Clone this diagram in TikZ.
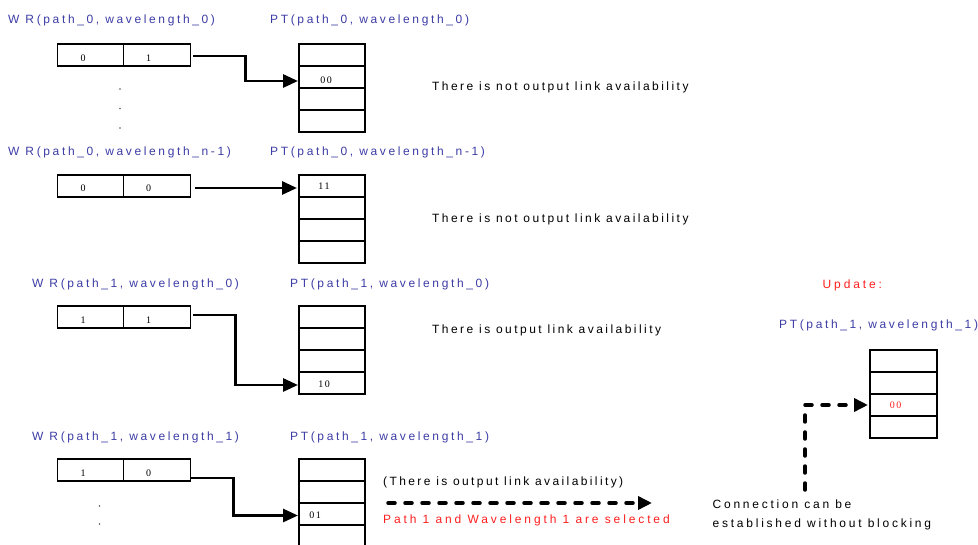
\documentclass[tikz,border=0pt]{standalone}
\usepackage{fontspec}
\setmainfont{Liberation Sans}
\newfontfamily\labfont[LetterSpace=22]{Liberation Sans}
\newfontfamily\notefont[LetterSpace=20.5]{Liberation Sans}
\newfontfamily\redfont[LetterSpace=24]{Liberation Sans}
\newfontfamily\confont[LetterSpace=23]{Liberation Sans}
\newfontfamily\parfont[LetterSpace=20]{Liberation Sans}
\newfontfamily\digfont[LetterSpace=15]{Liberation Serif}
\usetikzlibrary{arrows.meta,calc}
\definecolor{lblue}{RGB}{60,60,165}
\definecolor{lred}{RGB}{255,30,30}
\begin{document}
\begin{tikzpicture}[x=1pt,y=-1pt,
 cellbox/.style={draw, line width=1.4pt, minimum width=66pt, minimum height=22pt, inner sep=0pt, outer sep=0pt},
 wrcell/.style={cellbox, minimum width=66.5pt},
 lab/.style={anchor=base west, inner sep=0pt, text=lblue, font=\labfont\fontsize{12}{14}\selectfont},
 note/.style={anchor=base west, inner sep=0pt, font=\notefont\fontsize{12}{14}\selectfont},
 rnote/.style={anchor=base west, inner sep=0pt, text=lred, font=\redfont\fontsize{12}{14}\selectfont},
 cnote/.style={anchor=base west, inner sep=0pt, font=\confont\fontsize{12}{14}\selectfont},
 pnote/.style={anchor=base west, inner sep=0pt, font=\parfont\fontsize{12}{14}\selectfont},
 dig/.style={anchor=base, inner sep=0pt, font=\digfont\fontsize{10}{12}\selectfont},
 conn/.style={line width=2.8pt, -{Triangle[length=15pt,width=13pt]}},
 dconn/.style={line width=3.5pt, line cap=round, dash pattern=on 7pt off 10pt, -{Triangle[length=14pt,width=13pt]}},
 dotmark/.style={fill=black!65}
]
\useasboundingbox (0,0) rectangle (978,545);

% ---------- Block 1 ----------
\node[lab] (l1w) at (8,23.5) {W R(path\_0, wavelength\_0)};
\node[lab] (l1p) at (270,23.5) {PT(path\_0, wavelength\_0)};
\node[wrcell] (a1) at (90.5,55) {};
\node[wrcell] (a2) at (157,55) {};
\node[cellbox] (p1a) at (332,55) {};
\node[cellbox] (p1b) at (332,77) {};
\node[cellbox] (p1c) at (332,99) {};
\node[cellbox] (p1d) at (332,121) {};
\node[dig] (a1t) at ($(a1.center)+(-7.5,7)$) {0};
\node[dig] (a2t) at ($(a2.center)+(-8.3,7)$) {1};
\node[dig] (p1t) at ($(p1b.center)+(-6,7)$) {00};
\draw[conn] ($(a2.east)+(3,1)$) -- ++(52,0) |- ($(p1b.west)+(-1,4)$);
\fill[dotmark] (120,89) circle (0.8);
\fill[dotmark] (120,108.5) circle (0.8);
\fill[dotmark] (120,128) circle (0.8);
\node[note] (n1) at (432,90.5) {There is not output link availability};

% ---------- Block 2 ----------
\node[lab] (l2w) at (8,156) {W R(path\_0, wavelength\_n-1)};
\node[lab] (l2p) at (270,156) {PT(path\_0, wavelength\_n-1)};
\node[wrcell] (b1) at (90.5,186) {};
\node[wrcell] (b2) at (157,186) {};
\node[cellbox] (q1a) at (332,186) {};
\node[cellbox] (q1b) at (332,208) {};
\node[cellbox] (q1c) at (332,230) {};
\node[cellbox] (q1d) at (332,252) {};
\node[dig] (b1t) at ($(b1.center)+(-7.5,5.7)$) {0};
\node[dig] (b2t) at ($(b2.center)+(-8.3,5.7)$) {0};
\node[dig] (q1t) at ($(q1a.center)+(-8,4)$) {11};
\draw[conn] ($(b2.east)+(5,2)$) -- ($(q1a.west)+(-2,2)$);
\node[note] (n2) at (432,223) {There is not output link availability};

% ---------- Block 3 ----------
\node[lab] (l3w) at (32,287.7) {W R(path\_1, wavelength\_0)};
\node[lab] (l3p) at (290,287.7) {PT(path\_1, wavelength\_0)};
\node[wrcell] (c1) at (90.5,317) {};
\node[wrcell] (c2) at (157,317) {};
\node[cellbox] (q3a) at (332,317) {};
\node[cellbox] (q3b) at (332,339) {};
\node[cellbox] (q3c) at (332,361) {};
\node[cellbox] (q3d) at (332,383) {};
\node[dig] (c1t) at ($(c1.center)+(-7.5,6.3)$) {1};
\node[dig] (c2t) at ($(c2.center)+(-8.3,6.3)$) {1};
\node[dig] (q3t) at ($(q3d.center)+(-8,5)$) {10};
\draw[conn] ($(c2.east)+(3,-2)$) -- ++(42,0) |- ($(q3d.west)+(-1,2)$);
\node[note] (n3) at (432,334) {There is output link availability};

% ---------- Block 4 ----------
\node[lab] (l4w) at (32,440) {W R(path\_1, wavelength\_1)};
\node[lab] (l4p) at (290,440) {PT(path\_1, wavelength\_1)};
\node[wrcell] (e1) at (90.5,470) {};
\node[wrcell] (e2) at (157,470) {};
\node[cellbox] (q4a) at (332,470) {};
\node[cellbox] (q4b) at (332,492) {};
\node[cellbox] (q4c) at (332,514) {};
\node[cellbox] (q4d) at (332,536) {};
\node[dig] (e1t) at ($(e1.center)+(-7.5,6.7)$) {1};
\node[dig] (e2t) at ($(e2.center)+(-8.3,6.7)$) {0};
\node[dig] (q4t) at ($(q4c.center)+(-17,4.6)$) {01};
\draw[conn] ($(e2.east)+(1,8)$) -- ++(42,0) |- ($(q4c.west)+(-1,1.5)$);
\fill[dotmark] (99.5,506) circle (0.8);
\fill[dotmark] (99.5,524) circle (0.8);
\node[pnote] (n4) at (383,485) {(There is output link availability)};
\coordinate (d1s) at (388,503);
\coordinate (d1e) at (652,503);
\draw[dconn] (d1s) -- (d1e);
\node[rnote] (n5) at (383,523.3) {Path 1 and Wavelength 1 are selected};

% ---------- Update ----------
\node[rnote] (up) at (822.5,288.5) {Update:};
\node[lab] (l5p) at (779,328.7) {PT(path\_1, wavelength\_1)};
\node[cellbox, minimum width=67pt] (r1) at (903.5,361) {};
\node[cellbox, minimum width=67pt] (r2) at (903.5,383) {};
\node[cellbox, minimum width=67pt] (r3) at (903.5,405) {};
\node[cellbox, minimum width=67pt] (r4) at (903.5,427) {};
\node[dig, text=lred] (r3t) at ($(r3.center)+(-8,3.3)$) {00};
\coordinate (d2s) at (805,490);
\draw[dconn] (d2s) |- ($(r3.west)+(-2,0)$);
\node[cnote] (c1l) at (712.5,508) {Connection can be};
\node[cnote] (c2l) at (712.5,527.3) {established without blocking};
\end{tikzpicture}
\end{document}
